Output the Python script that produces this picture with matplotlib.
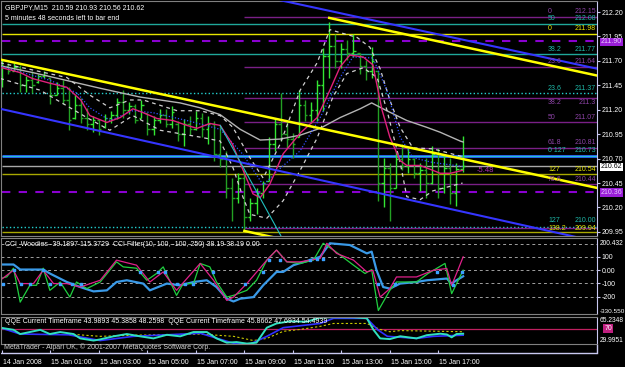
import matplotlib
matplotlib.use("Agg")
import matplotlib.pyplot as plt
import matplotlib.transforms as mtransforms

plt.rcParams['font.family'] = ['Liberation Sans', 'DejaVu Sans']
plt.rcParams['font.size'] = 5

# ---- GBPJPY M15 bars, 14 Jan 23:00 .. 15 Jan 18:00 ----
bar_open = [211.62, 211.65, 211.60, 211.64, 211.45, 211.50, 211.48, 211.55, 211.53, 211.35,
            211.42, 211.30, 211.12, 211.25, 211.12, 211.05, 211.10, 211.02, 211.12, 211.15,
            211.28, 211.20, 211.24, 211.12, 211.17, 211.00, 211.10, 211.15, 211.05, 211.05,
            210.95, 211.05, 211.00, 211.12, 211.00, 211.05, 210.75, 210.70, 210.40, 210.30,
            210.50, 210.10, 210.25, 210.35, 210.47, 210.85, 211.05, 210.95, 210.90, 210.92,
            211.25, 211.15, 211.20, 211.45, 211.75, 211.85, 211.70, 211.82, 211.78, 211.78,
            211.65, 211.60, 211.60, 210.45, 210.60, 210.40, 210.70, 210.62, 210.70, 210.55,
            210.58, 210.45, 210.75, 210.40, 210.60, 210.35, 210.59]
bar_high = [211.71, 211.68, 211.68, 211.66, 211.55, 211.60, 211.57, 211.60, 211.53, 211.48,
            211.50, 211.43, 211.35, 211.32, 211.22, 211.14, 211.11, 211.16, 211.19, 211.32,
            211.40, 211.28, 211.26, 211.30, 211.17, 211.14, 211.21, 211.21, 211.24, 211.09,
            211.11, 211.14, 211.19, 211.17, 211.14, 211.09, 211.04, 210.78, 210.50, 210.55,
            210.58, 210.30, 210.40, 210.47, 210.92, 211.12, 211.37, 211.09, 210.96, 211.40,
            211.30, 211.28, 211.50, 211.83, 212.10, 211.98, 211.88, 211.91, 211.98, 211.78,
            211.71, 211.84, 211.60, 210.71, 210.65, 210.78, 210.85, 210.81, 210.71, 210.65,
            210.71, 210.83, 210.81, 210.73, 210.71, 210.66, 210.93]
bar_low = [211.43, 211.57, 211.60, 211.38, 211.38, 211.37, 211.47, 211.53, 211.26, 211.35,
           211.26, 210.99, 211.11, 211.06, 210.99, 210.97, 210.94, 211.01, 211.06, 211.11,
           211.12, 211.16, 211.06, 211.12, 210.94, 210.94, 211.06, 211.02, 211.01, 210.88,
           210.83, 210.94, 210.99, 210.92, 210.85, 210.68, 210.61, 210.30, 210.06, 210.25,
           209.96, 210.06, 210.13, 210.30, 210.47, 210.78, 210.88, 210.81, 210.71, 210.92,
           211.09, 211.06, 211.09, 211.19, 211.53, 211.63, 211.63, 211.71, 211.74, 211.57,
           211.50, 211.53, 210.27, 210.20, 210.06, 210.40, 210.58, 210.55, 210.50, 210.37,
           210.30, 210.44, 210.30, 210.35, 210.24, 210.22, 210.56]
bar_close = [211.65, 211.60, 211.64, 211.45, 211.50, 211.45, 211.55, 211.56, 211.35, 211.42,
             211.30, 211.10, 211.25, 211.12, 211.05, 211.10, 211.00, 211.12, 211.15, 211.28,
             211.20, 211.24, 211.10, 211.25, 211.00, 211.10, 211.15, 211.05, 211.18, 210.95,
             211.05, 211.00, 211.12, 211.00, 211.05, 210.75, 210.70, 210.40, 210.30, 210.50,
             210.10, 210.25, 210.35, 210.45, 210.85, 211.05, 210.95, 210.90, 210.85, 211.25,
             211.15, 211.20, 211.45, 211.75, 211.85, 211.70, 211.82, 211.78, 211.80, 211.65,
             211.60, 211.70, 210.45, 210.60, 210.40, 210.70, 210.62, 210.70, 210.55, 210.58,
             210.45, 210.75, 210.40, 210.60, 210.35, 210.59, 210.62]

time_tick_bars = [0, 8, 16, 24, 32, 40, 48, 56, 64, 72]
time_tick_labels = ["14 Jan 2008", "15 Jan 01:00", "15 Jan 03:00", "15 Jan 05:00", "15 Jan 07:00",
                    "15 Jan 09:00", "15 Jan 11:00", "15 Jan 13:00", "15 Jan 15:00", "15 Jan 17:00"]
price_ticks = [212.20, 211.95, 211.70, 211.45, 211.20, 210.95, 210.70, 210.45, 210.20, 209.95]

# ---- moving averages / envelope (bar index, price) ----
ma_fast_bars = [0, 3, 5, 8, 10.7, 13, 14.5, 17.3, 19.5, 21.6, 23.3, 25.6, 28.2, 30.5, 32.2, 34.3, 36, 38,
                39.8, 41.4, 42.6, 44.2, 46.4, 49.2, 52, 54.1, 55.8, 57.4, 59.6, 61.2, 62.7, 64, 65.7,
                66.8, 69, 71.1, 72.3, 74, 76]
ma_fast_vals = [211.63, 211.58, 211.52, 211.47, 211.43, 211.30, 211.14, 211.07, 211.12, 211.21, 211.17,
                211.11, 211.09, 211.04, 211.01, 211.06, 211.04, 210.85, 210.58, 210.34, 210.30, 210.44,
                210.75, 210.96, 211.12, 211.40, 211.64, 211.76, 211.74, 211.66, 211.20, 210.92, 210.68,
                210.63, 210.63, 210.58, 210.55, 210.55, 210.58]
ma_mid_bars = [0, 8, 12.4, 14.5, 17.8, 21.6, 24.9, 30.5, 36, 39.8, 43.1, 45.9, 49.2, 52.5, 55.8, 57.9,
               61.2, 63.5, 65.7, 67.8, 71.1, 76]
ma_mid_vals = [211.64, 211.50, 211.37, 211.22, 211.09, 211.19, 211.17, 211.09, 211.00, 210.74, 210.43,
               210.60, 210.78, 211.12, 211.53, 211.74, 211.73, 211.40, 210.92, 210.71, 210.66, 210.62]
ma_slow_bars = [-0.3, 5.1, 16.2, 22.8, 29.4, 32.7, 36, 39.3, 42.6, 45.9, 49.2, 52.5, 55.8, 59.1, 61,
                63.5, 66.8, 70.1, 72.3, 75.6, 76.1]
ma_slow_vals = [211.65, 211.58, 211.42, 211.33, 211.27, 211.22, 211.15, 211.00, 210.89, 210.90, 210.94,
                211.01, 211.12, 211.21, 211.27, 211.19, 211.09, 211.02, 210.97, 210.88, 210.87]
band_up_bars = [-0.3, 10.7, 14.5, 17.8, 21.1, 23.3, 28.9, 32.7, 36, 38.1, 40.9, 43.1, 45.9, 49.2, 52,
                54.1, 56.9, 58.6, 60.7, 62.4, 64, 65.7, 67.8, 71.1, 76]
band_up_vals = [211.68, 211.53, 211.35, 211.22, 211.30, 211.30, 211.19, 211.19, 211.14, 211.02, 210.71,
                210.50, 210.85, 211.40, 211.68, 212.02, 211.97, 211.94, 211.84, 211.62, 211.30, 211.02,
                210.81, 210.80, 210.72]
band_dn_bars = [-0.3, 6.3, 14, 17.8, 21.6, 26.1, 32.7, 36, 38.1, 39.8, 40.9, 43.7, 46.4, 49.2, 52,
                54.6, 56.9, 59.6, 61.9, 63.5, 65.7, 66.8, 69, 71.1, 76]
band_dn_vals = [211.52, 211.40, 211.12, 210.99, 211.14, 210.99, 210.92, 210.88, 210.61, 210.30, 210.13,
                210.09, 210.27, 210.58, 210.91, 211.33, 211.57, 211.63, 211.53, 211.20, 210.66, 210.31,
                210.28, 210.37, 210.45]

# ---- trend lines (anchor bar, anchor price) ----
yellow_main_x, yellow_main_y = [0, 98.2], [211.71, 210.40]
yellow_top_x, yellow_top_y = [54, 98.2], [212.14, 211.55]
yellow_low_x, yellow_low_y = [40, 60], [209.96, 209.69]
blue_top_x, blue_top_y = [46, 98.2], [212.32, 211.62]
blue_low_x, blue_low_y = [-0.3, 98.2], [211.21, 209.85]
cyan_diag_x, cyan_diag_y = [36, 47], [211.04, 209.80]

# ---- horizontal levels (fibonacci sets + alert lines) ----
level_prices = [212.15, 212.08, 211.98, 211.90, 211.77, 211.64, 211.37, 211.32, 211.07, 210.81,
                210.73, 210.62, 210.54, 210.44, 210.36, 210.00, 209.99, 209.95]
level_names = ["0", "50", "0", "", "38.2", "23.6", "23.6", "38.2", "50", "61.8",
               "0 127", "", "127", "78.6", "", "127", "", "138.2"]
level_price_txt = ["212.15", "212.08", "211.98", "", "211.77", "211.64", "211.37", "211.3", "211.07",
                   "210.81", "210.73", "", "210.54", "210.44", "", "210.00", "", "209.94"]
level_colors = ["#7a1f86", "#1fa89a", "#e6e600", "#8a00d0", "#1fa89a", "#7a1f86", "#22d0d0",
                "#7a1f86", "#7a1f86", "#7a1f86", "#2f6cff", "#a8a8a8", "#a8a800", "#7a1f86",
                "#8a00d0", "#22d0d0", "#7a1f86", "#a8a800"]
level_text_colors = ["#8e44a8", "#1fb8a8", "#e6e600", "", "#1fb8a8", "#8e44a8", "#1fb8a8",
                     "#8e44a8", "#8e44a8", "#8e44a8", "#1fb8a8", "", "#e6e600", "#8e44a8", "",
                     "#1fb8a8", "", "#e6e600"]
# caption offset from its line (price units) and vertical anchor
level_text_dy = [0.015, 0.015, 0.015, 0, 0.015, 0.015, 0.015, -0.005, 0.015, 0.015, 0.015, 0, 0.015,
                 0.015, 0, 0.03, 0, 0.03]
level_text_va = ['bottom'] * 7 + ['top'] + ['bottom'] * 9 + ['center']
level_styles = ["-", "-", "-", (0, (4, 4)), "-", "-", ":", "-", "-", "-", "-", "-", "-", "-",
                (0, (4, 4)), ":", "-", "-"]
level_widths = [1, 1, 1, 1.5, 1, 1, 1, 1, 1, 1, 2, 1, 1, 1, 1.5, 1, 1, 1]
level_start = [40, 0, 0, 0, 0, 40, 0, 40, 40, 40, 0, 0, 0, 40, 0, 0, 40, 0]

# ---- CCI window ----
cci_levels = [200, 100, 0, -100, -200]
cci_filter_bars = [-0.3, 1.9, 3.0, 6.8, 7.9, 10.7, 12.9, 15.1, 17.3, 18.9, 20.6, 23.3, 24.4, 27.2, 29.4,
                   31.6, 33.8, 35.4, 37.1, 38.2, 39.3, 41.5, 43.1, 45.3, 46.4, 48.1, 50.8, 52.5, 54.1,
                   57.4, 60.2, 61.0, 61.8, 62.9, 64.0, 65.7, 68.4, 70.1, 73.4, 74.2, 75.0, 76.1]
cci_filter_vals = [43, 43, 5, 5, -25, -89, -127, -160, -152, -89, -76, -101, -152, -101, -114, -89, -76,
                   -127, -215, -236, -215, -203, -114, -13, -13, 38, 76, 101, 203, 190, 127, 140, 0,
                   -127, -139, -101, -89, -76, -63, -101, -76, -46]
cci_turbo_bars = [-0.3, 0.8, 1.9, 3.0, 4.6, 5.7, 6.8, 7.9, 9.6, 11.2, 12.3, 14.0, 16.2, 18.9, 20.0, 22.2,
                  23.9, 25.5, 26.6, 28.8, 29.9, 31.6, 32.7, 34.3, 35.4, 37.1, 38.2, 40.4, 42.0, 43.7,
                  45.3, 47.0, 49.2, 51.4, 53.0, 54.7, 58.0, 59.9, 61.0, 62.1, 64.0, 65.1, 68.4, 70.3,
                  73.1, 74.2, 76.1]
cci_turbo_vals = [-63, -50, 15, -241, -114, -114, 15, -152, -89, -203, -89, -139, -89, 63, 25, 15, -76,
                  -25, 25, -190, -101, -101, 51, 25, -89, -203, -190, -152, -76, 76, 152, 63, 51, 76,
                  203, 152, 38, -25, 5, -304, -152, -89, -89, -25, 51, -177, 0]
cci_main_bars = [-0.3, 1.9, 3.0, 5.2, 6.8, 8.5, 10.7, 12.9, 16.2, 18.9, 22.2, 24.4, 26.6, 28.8, 32.7,
                 34.9, 37.1, 38.2, 40.4, 43.7, 45.3, 47.0, 49.2, 52.5, 53.6, 55.2, 58.0, 60.2, 61.2,
                 62.4, 64.0, 65.1, 68.4, 71.2, 73.4, 74.2, 75.0, 76.1]
cci_main_vals = [-76, 0, -101, -101, 0, -101, -101, -127, -76, 76, 38, -89, -13, -152, 51, -76, -228,
                 -203, -101, 76, 152, 63, 63, 89, 203, 127, 76, -13, 0, -203, -139, -51, -51, 0, 13,
                 -114, -25, 101]
cci_dot_bars = [0.1, 1.9, 3.1, 4.7, 6.8, 7.9, 9.6, 11.5, 13.1, 22.8, 25.8, 26.9, 28.8, 30.2, 31.6, 34.9,
                40.1, 43.1, 44.0, 45.9, 50.8, 51.9, 53.0, 62.1, 64.8, 71.7, 74.5, 75.9]
cci_dot_vals = [-101, 0, -101, -101, 5, -101, -101, -101, -101, -13, -13, -13, -101, -101, -101, -13,
                -101, -13, 76, 76, 76, 83, 83, -101, -101, -13, -114, -13]

# ---- QQE window ----
qqe_fast_bars = [-0.3, 1.9, 3.0, 4.6, 6.3, 7.9, 9.6, 11.8, 12.9, 15.1, 16.2, 18.4, 20.6, 22.8, 25.0, 27.2,
                 29.4, 31.6, 33.8, 35.4, 37.1, 38.7, 40.4, 42.0, 43.7, 45.3, 47.5, 50.3, 52.5, 54.7,
                 58.0, 60.2, 61.3, 62.4, 64.0, 65.7, 68.4, 70.1, 72.3, 73.4, 74.2, 75.0, 76.1]
qqe_fast_vals = [51.3, 48.5, 43.0, 45.6, 48.5, 43.0, 45.6, 43.0, 37.3, 34.5, 36.0, 40.0, 43.0, 40.0, 37.3,
                 42.0, 40.0, 45.6, 45.6, 37.3, 31.7, 32.5, 30.5, 31.7, 51.3, 56.8, 59.6, 59.0, 64.5,
                 65.0, 64.8, 63.6, 48.5, 37.3, 36.4, 40.1, 37.3, 41.5, 43.4, 42.5, 38.7, 43.0, 43.4]
qqe_slow_bars = [-0.3, 3.0, 11.0, 16.2, 21.7, 27.2, 32.7, 38.2, 41.0, 43.7, 46.4, 52.5, 54.7, 60.2, 62.0,
                 63.6, 68.4, 71.2, 76.1]
qqe_slow_vals = [51.3, 43.0, 42.0, 34.5, 40.0, 42.0, 44.0, 31.0, 30.0, 40.0, 51.3, 56.8, 63.5, 63.5, 48.5,
                 40.0, 37.3, 40.0, 41.5]
qqe_trail_bars = [11.0, 16.2, 21.7, 32.7, 35.4, 38.2, 41.5, 43.7, 46.4, 49.2, 52.5, 54.7, 60.2, 62.4, 64.0,
                  65.7, 76.1]
qqe_trail_vals = [43.0, 40.0, 41.5, 42.9, 41.5, 40.0, 34.5, 37.3, 46.5, 49.0, 53.0, 56.8, 56.8, 49.0, 46.0,
                  47.5, 46.0]
qqe_min, qqe_max = 29.9951, 65.2348

# ---------------------------------------------------------------
W, H = 625, 367
fig = plt.figure(figsize=(W / 100, H / 100), dpi=100, facecolor='black')


def px_axes(x0, y0, x1, y1):
    return fig.add_axes([x0 / W, 1 - y1 / H, (x1 - x0) / W, (y1 - y0) / H])


XLIM = (-1 / 6.06, 595 / 6.06)
FRAME = '#808080'
AXIS = '#c8c8f0'


def style_panel(ax):
    ax.set_facecolor('black')
    ax.set_xlim(*XLIM)
    ax.set_xticks([])
    for s in ['left', 'top', 'bottom']:
        ax.spines[s].set_color(FRAME)
    ax.spines['right'].set_color(AXIS)
    ax.yaxis.tick_right()
    ax.tick_params(axis='y', colors=AXIS, labelcolor='white', length=2, pad=1.5, labelsize=5)


# ================= main price window =================
ax = px_axes(1, 1, 597, 236)
style_panel(ax)
ax.set_ylim(209.908, 212.313)
ax.set_yticks(price_ticks)
ax.set_yticklabels([f"{p:.2f}" for p in price_ticks])

for p, st, c, ls, lw in zip(level_prices, level_start, level_colors, level_styles, level_widths):
    ax.hlines(p, st, XLIM[1], colors=c, linestyles=ls, linewidth=lw, zorder=1)
ax.hlines(210.73, 0, XLIM[1], colors='#22d0d0', linewidth=0.6, zorder=1)

# bars
idx = list(range(len(bar_open)))
cols = ['#33e633' if c >= o else '#23a023' for o, c in zip(bar_open, bar_close)]
ax.vlines(idx, bar_low, bar_high, colors=cols, linewidth=1, zorder=2)
ax.hlines(bar_open, [i - 0.4 for i in idx], idx, colors=cols, linewidth=1, zorder=2)
ax.hlines(bar_close, idx, [i + 0.4 for i in idx], colors=cols, linewidth=1, zorder=2)

ax.plot(ma_slow_bars, ma_slow_vals, color='#b4b4b4', lw=1, zorder=3)
ax.plot(band_up_bars, band_up_vals, color='#d0d0d0', lw=0.9, ls=(0, (3, 3)), zorder=3)
ax.plot(band_dn_bars, band_dn_vals, color='#d0d0d0', lw=0.9, ls=(0, (3, 3)), zorder=3)
ax.plot(ma_mid_bars, ma_mid_vals, color='#3050ff', lw=0.9, ls=(0, (1, 1.5)), zorder=3)
ax.plot(ma_fast_bars, ma_fast_vals, color='#e0207a', lw=1, zorder=4)

ax.plot(yellow_main_x, yellow_main_y, color='#ffff00', lw=1.8, zorder=5)
ax.plot(yellow_top_x, yellow_top_y, color='#ffff00', lw=1.8, zorder=5)
ax.plot(yellow_low_x, yellow_low_y, color='#ffff00', lw=1.8, zorder=5)
ax.plot(blue_top_x, blue_top_y, color='#3535ff', lw=1.5, zorder=5)
ax.plot(blue_low_x, blue_low_y, color='#3535ff', lw=1.5, zorder=5)
ax.plot(cyan_diag_x, cyan_diag_y, color='#20c0c0', lw=0.8, zorder=5)

# fibonacci level captions
trans = mtransforms.blended_transform_factory(ax.transAxes, ax.transData)
for p, n, t, tc, dy, va in zip(level_prices, level_names, level_price_txt, level_text_colors,
                               level_text_dy, level_text_va):
    if n:
        ax.text(547 / 596, p + dy, n, color=tc, ha='left', va=va, transform=trans, zorder=6)
        ax.text(595 / 596, p + dy, t, color=tc, ha='right', va=va, transform=trans, zorder=6)
ax.text(78.3, 210.58, "-5.48", color='#b030b0', ha='left', va='center', fontsize=5.5, zorder=6)

# price boxes on the scale
for p, fc, tc in [(211.90, '#9a1ed8', '#e8c8ff'), (210.62, 'white', 'black'), (210.36, '#9a1ed8', '#e8c8ff')]:
    ax.text(1.006, p - 0.005, f"{p:.2f}", color=tc, ha='left', va='center', transform=trans,
            clip_on=False, zorder=7,
            bbox=dict(boxstyle='square,pad=0.12', fc=fc, ec='none'))

ax.text(4 / 596, 0.985, "GBPJPY,M15  210.59 210.93 210.56 210.62", transform=ax.transAxes,
        color='white', ha='left', va='top')
ax.text(4 / 596, 0.94, "5 minutes 48 seconds left to bar end", transform=ax.transAxes,
        color='white', ha='left', va='top')

# ================= CCI window =================
cx = px_axes(1, 238, 597, 314)
style_panel(cx)
cx.set_ylim(-330.55, 243)
cx.set_yticks([100, 0, -100, -200])
cx.set_yticklabels(["100", "0.00", "-100", "-200"])
for lv in cci_levels:
    cx.axhline(lv, color='#a0a0a0', lw=0.7, ls=(0, (3, 3)))
cx.plot(cci_filter_bars, cci_filter_vals, color='#3a9ae8', lw=1.6)
cx.plot(cci_turbo_bars, cci_turbo_vals, color='#20d040', lw=0.9)
cx.plot(cci_main_bars, cci_main_vals, color='#e0208a', lw=0.9)
cx.scatter(cci_dot_bars, cci_dot_vals, marker='s', s=3, color='#3aa0ff', zorder=4)
cx.text(1.004, 205, "200.432", color='white', ha='left', va='center',
        transform=mtransforms.blended_transform_factory(cx.transAxes, cx.transData), fontsize=4.8,
        clip_on=False)
cx.text(1.004, 0.0, "-330.550", color='white', ha='left', va='bottom', transform=cx.transAxes,
        fontsize=4.6, clip_on=False)
cx.text(4 / 596, 0.96, "CCI_Woodies -39.1897 115.3729  CCI Filter(10, 100, -100, 250) 38.19 38.19 0.00",
        transform=cx.transAxes, color='white', ha='left', va='top')

# ================= QQE window =================
qx = px_axes(1, 317, 597, 344)
style_panel(qx)
qx.set_ylim(qqe_min, qqe_max)
qx.set_yticks([])
qx.axhline(50, color='#c02060', lw=0.9)
qx.plot(qqe_trail_bars, qqe_trail_vals, color='#c8c800', lw=0.8, ls=(0, (2, 2)))
qx.plot(qqe_slow_bars, qqe_slow_vals, color='#3030ff', lw=1.2)
qx.plot(qqe_fast_bars, qqe_fast_vals, color='#30e0c0', lw=1.4)
qx.text(1.004, 1.0, f"{qqe_max:.4f}", color='white', ha='left', va='top', transform=qx.transAxes,
        fontsize=4.8, clip_on=False)
qx.text(1.004, 0.0, f"{qqe_min:.4f}", color='white', ha='left', va='bottom', transform=qx.transAxes,
        fontsize=4.8, clip_on=False)
qx.text(1.012, 50, "70", color='white', ha='left', va='center',
        transform=mtransforms.blended_transform_factory(qx.transAxes, qx.transData),
        clip_on=False, bbox=dict(boxstyle='square,pad=0.15', fc='#c02080', ec='none'))
qx.text(4 / 596, 0.95, "QQE Current Timeframe 43.9893 45.3858 48.2598  QQE Current Timeframe 45.8662 47.6934 54.4939",
        transform=qx.transAxes, color='white', ha='left', va='top')

# ================= time scale =================
tx = px_axes(1, 345, 597, 367)
tx.set_facecolor('black')
tx.set_xlim(*XLIM)
tx.set_ylim(0, 22)
tx.axis('off')
tx.axhline(14, color=AXIS, lw=1)
tx.vlines(time_tick_bars, 14, 17, colors=AXIS, lw=0.8)
for b, lab in zip(time_tick_bars, time_tick_labels):
    tx.text(b + 0.15, 5, lab, color='white', ha='left', va='center')
tx.text(0.3, 19.5, "MetaTrader - Alpari UK, \u00a9 2001-2007 MetaQuotes Software Corp.",
        color='#d0d0d0', ha='left', va='center')
tx.plot([XLIM[1], XLIM[1]], [14, 22], color=AXIS, lw=1, clip_on=False)

fig.savefig("out.png", dpi=100, facecolor='black')
